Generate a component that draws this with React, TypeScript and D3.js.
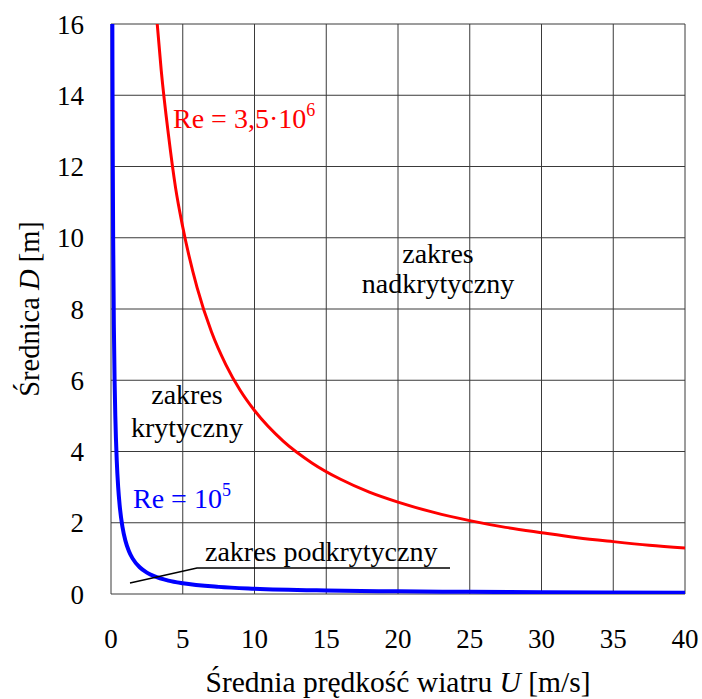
import React from "react";
import * as d3 from "d3";

const xTicks = [0, 5, 10, 15, 20, 25, 30, 35, 40];
const yTicks = [0, 2, 4, 6, 8, 10, 12, 14, 16];

// Re = 3,5·10^6 curve (red)
const redU = [3.2, 3.5, 4, 4.5, 5, 6, 7, 8, 9, 10, 12, 14, 16, 18, 20, 22.5, 25, 27.5, 30, 32.5, 35, 37.5, 40];
const redD = [16.1, 14.7, 12.9, 11.4, 10.3, 8.6, 7.36, 6.44, 5.72, 5.15, 4.29, 3.68, 3.22, 2.86, 2.58, 2.29, 2.06, 1.87, 1.72, 1.58, 1.47, 1.37, 1.29];

// Re = 10^5 curve (blue)
const blueU = [0.094, 0.1, 0.12, 0.15, 0.2, 0.25, 0.3, 0.4, 0.5, 0.6, 0.8, 1, 1.25, 1.5, 2, 2.5, 3, 4, 5, 7.5, 10, 15, 20, 25, 30, 40];
const blueD = [16, 15, 12.5, 10, 7.5, 6, 5, 3.75, 3, 2.5, 1.88, 1.5, 1.2, 1.0, 0.75, 0.6, 0.5, 0.375, 0.3, 0.2, 0.15, 0.1, 0.075, 0.06, 0.05, 0.0375];

const W = 702;
const H = 699;
const L = 111, R = 685, T = 24, B = 594;
const FONT = "'Liberation Serif', 'Times New Roman', serif";

export default function App() {
  const x = d3.scaleLinear().domain([0, 40]).range([L, R]);
  const y = d3.scaleLinear().domain([0, 16]).range([B, T]);
  const line = d3
    .line<[number, number]>()
    .x((d) => x(d[0]))
    .y((d) => y(d[1]))
    .curve(d3.curveMonotoneX);
  const red = line(redU.map((u, i) => [u, redD[i]] as [number, number])) || "";
  const blue = line(blueU.map((u, i) => [u, blueD[i]] as [number, number])) || "";

  return (
    <svg
      width={W}
      height={H}
      style={{ position: "absolute", left: 0, top: 0, background: "#fff" }}
      fontFamily={FONT}
    >
      <defs>
        <clipPath id="plotclip">
          <rect x={L - 3} y={T} width={R - L + 3} height={B - T} />
        </clipPath>
      </defs>
      {/* grid */}
      {xTicks.map((t) => (
        <line key={"gx" + t} x1={x(t)} x2={x(t)} y1={T} y2={B} stroke="#3a3a3a" strokeWidth={1} />
      ))}
      {yTicks.map((t) => (
        <line key={"gy" + t} x1={L} x2={R} y1={y(t)} y2={y(t)} stroke="#3a3a3a" strokeWidth={1} />
      ))}
      {/* tick labels */}
      {xTicks.map((t) => (
        <text key={"tx" + t} x={x(t)} y={648} fontSize={27} textAnchor="middle" fill="#000">
          {t}
        </text>
      ))}
      {yTicks.map((t) => (
        <text key={"ty" + t} x={84} y={y(t) + 9.5} fontSize={27} textAnchor="end" fill="#000">
          {t}
        </text>
      ))}
      {/* axis titles */}
      <text x={(L + R) / 2} y={692} fontSize={29.5} textAnchor="middle" fill="#000">
        Średnia prędkość wiatru <tspan fontStyle="italic">U</tspan> [m/s]
      </text>
      <text
        transform={`translate(39, ${(T + B) / 2}) rotate(-90)`}
        fontSize={28.5}
        textAnchor="middle"
        fill="#000"
      >
        Średnica <tspan fontStyle="italic">D</tspan> [m]
      </text>
      {/* curves */}
      <g clipPath="url(#plotclip)">
        <path d={red} fill="none" stroke="#ff0000" strokeWidth={3} />
        <path d={blue} fill="none" stroke="#0000ff" strokeWidth={4} />
      </g>
      {/* pointer for subcritical range */}
      <polyline points="130,583 197,568 450,568" fill="none" stroke="#000" strokeWidth={1.5} />
      {/* annotations */}
      <text x={173} y={128} fontSize={28} fill="#ff0000">
        Re = 3,5·10<tspan fontSize={18} dy={-12}>6</tspan>
      </text>
      <text x={133} y={508} fontSize={28} fill="#0000ff">
        Re = 10<tspan fontSize={18} dy={-12}>5</tspan>
      </text>
      <text x={438} y={263} fontSize={28} textAnchor="middle" fill="#000">
        zakres
      </text>
      <text x={438} y={293} fontSize={28} textAnchor="middle" fill="#000">
        nadkrytyczny
      </text>
      <text x={187} y={404} fontSize={28} textAnchor="middle" fill="#000">
        zakres
      </text>
      <text x={187} y={437} fontSize={28} textAnchor="middle" fill="#000">
        krytyczny
      </text>
      <text x={205} y={561} fontSize={28} fill="#000">
        zakres podkrytyczny
      </text>
    </svg>
  );
}
